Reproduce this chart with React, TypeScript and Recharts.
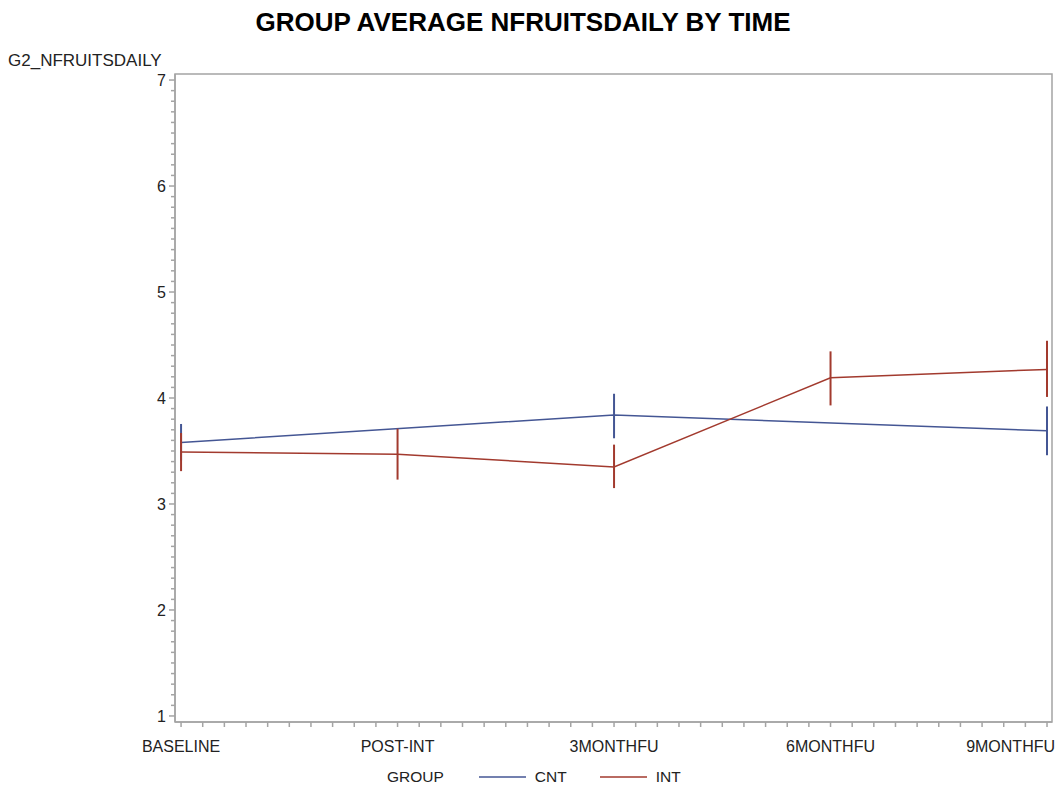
import React from "react";
import { ComposedChart, Line, ErrorBar, XAxis, YAxis, Legend, ReferenceArea } from "recharts";

const categories = ["BASELINE", "POST-INT", "3MONTHFU", "6MONTHFU", "9MONTHFU"];

// CNT has no POST-INT / 6MONTHFU observations, the line just joins across them
const cntMean = [3.58, null, 3.84, null, 3.69];
const cntLower = [3.41, null, 3.62, null, 3.46];
const cntUpper = [3.755, null, 4.04, null, 3.92];

const intMean = [3.49, 3.47, 3.35, 4.19, 4.27];
const intLower = [3.31, 3.23, 3.15, 3.93, 4.01];
const intUpper = [3.67, 3.71, 3.56, 4.44, 4.54];

const yMajor = [1, 2, 3, 4, 5, 6, 7];

const CNT_COLOR = "#445694";
const INT_COLOR = "#A23A2E";
const AXIS_COLOR = "#a4a4a4";
const FONT = "'Liberation Sans', Arial, sans-serif";

const xDomain = [-0.028, 4.023];
const yDomain = [0.943, 7.057];

const xTicks = Array.from({ length: 41 }, (_, i) => i / 10);
const yTicks = Array.from({ length: 61 }, (_, i) => 1 + i / 10);

const err = (m: number | null, lo: number | null, hi: number | null) =>
    m == null || lo == null || hi == null ? null : [m - lo, hi - m];

const data = categories.map((c, i) => ({
    x: i,
    name: c,
    cnt: cntMean[i],
    int: intMean[i],
    cntErr: err(cntMean[i], cntLower[i], cntUpper[i]),
    intErr: err(intMean[i], intLower[i], intUpper[i]),
}));

const isMajor = (v: number) => Math.abs(v - Math.round(v)) < 1e-6;

const XTick = (props: any) => {
    const { x, y, payload } = props;
    const v = payload.value;
    const major = isMajor(v);
    const last = major && Math.round(v) === categories.length - 1;
    return <g>
        <line x1={x} x2={x} y1={y} y2={y + 5} stroke={AXIS_COLOR} strokeWidth={1.5} />
        {major && <text x={last ? x + 8 : x} y={y + 29.5} textAnchor={last ? "end" : "middle"} fontSize={16} fontFamily={FONT} fill="#222">
            {categories[Math.round(v)]}
        </text>}
    </g>
}

const YTick = (props: any) => {
    const { x, y, payload } = props;
    const v = payload.value;
    const major = yMajor.some(m => Math.abs(m - v) < 1e-6);
    return <g>
        <line x1={x - (major ? 6 : 4)} x2={x} y1={y} y2={y} stroke={AXIS_COLOR} strokeWidth={1.5} />
        {major && <text x={x - 9} y={y} dy="0.36em" textAnchor="end" fontSize={16} fontFamily={FONT} fill="#222">
            {Math.round(v)}
        </text>}
    </g>
}

const LegendContent = (props: any) => {
    const items = props.payload || [];
    return <div style={{ display: "flex", alignItems: "center", height: 24, fontFamily: FONT, fontSize: 15.5, color: "#222" }}>
        <span style={{ marginRight: 35 }}>GROUP</span>
        {items.map((it: any) => <span key={it.value} style={{ display: "flex", alignItems: "center", marginRight: 33 }}>
            <svg width={47} height={4}><line x1={0} x2={47} y1={2} y2={2} stroke={it.color} strokeWidth={1.5} /></svg>
            <span style={{ marginLeft: 9 }}>{it.value}</span>
        </span>)}
    </div>
}

export default function App() {
    return <div style={{ position: "absolute", left: 0, top: 0, width: 1061, height: 789, background: "#fff" }}>
        <div style={{ position: "absolute", left: 0, width: 1046, top: 6, textAlign: "center", fontFamily: FONT, fontWeight: "bold", fontSize: 26, lineHeight: "32px", color: "#000" }}>
            GROUP AVERAGE NFRUITSDAILY BY TIME
        </div>
        <div style={{ position: "absolute", left: 8, top: 52, fontFamily: FONT, fontSize: 17, lineHeight: "17px", color: "#222" }}>
            G2_NFRUITSDAILY
        </div>
        <ComposedChart width={1061} height={789} data={data} margin={{ top: 74, right: 9, bottom: 0, left: 0 }}>
            <XAxis dataKey="x" type="number" domain={xDomain} allowDataOverflow ticks={xTicks} interval={0}
                tick={<XTick />} tickLine={false} tickSize={0} tickMargin={0} height={43}
                axisLine={{ stroke: AXIS_COLOR, strokeWidth: 1.5 }} />
            <YAxis type="number" domain={yDomain} allowDataOverflow ticks={yTicks} interval={0}
                tick={<YTick />} tickLine={false} tickSize={0} tickMargin={0} width={175}
                axisLine={{ stroke: AXIS_COLOR, strokeWidth: 1.5 }} />
            <ReferenceArea x1={xDomain[0]} x2={xDomain[1]} y1={yDomain[0]} y2={yDomain[1]} fill="none" stroke={AXIS_COLOR} strokeWidth={1.5} ifOverflow="visible" />
            <Line dataKey="cnt" name="CNT" type="linear" stroke={CNT_COLOR} strokeWidth={1.5} dot={false} activeDot={false} connectNulls isAnimationActive={false}>
                <ErrorBar dataKey="cntErr" width={0} stroke={CNT_COLOR} strokeWidth={2} direction="y" isAnimationActive={false} />
            </Line>
            <Line dataKey="int" name="INT" type="linear" stroke={INT_COLOR} strokeWidth={1.5} dot={false} activeDot={false} connectNulls isAnimationActive={false}>
                <ErrorBar dataKey="intErr" width={0} stroke={INT_COLOR} strokeWidth={2} direction="y" isAnimationActive={false} />
            </Line>
            <Legend content={<LegendContent />} wrapperStyle={{ left: 387, bottom: 0, height: 24, width: 340 }} />
        </ComposedChart>
    </div>
}
